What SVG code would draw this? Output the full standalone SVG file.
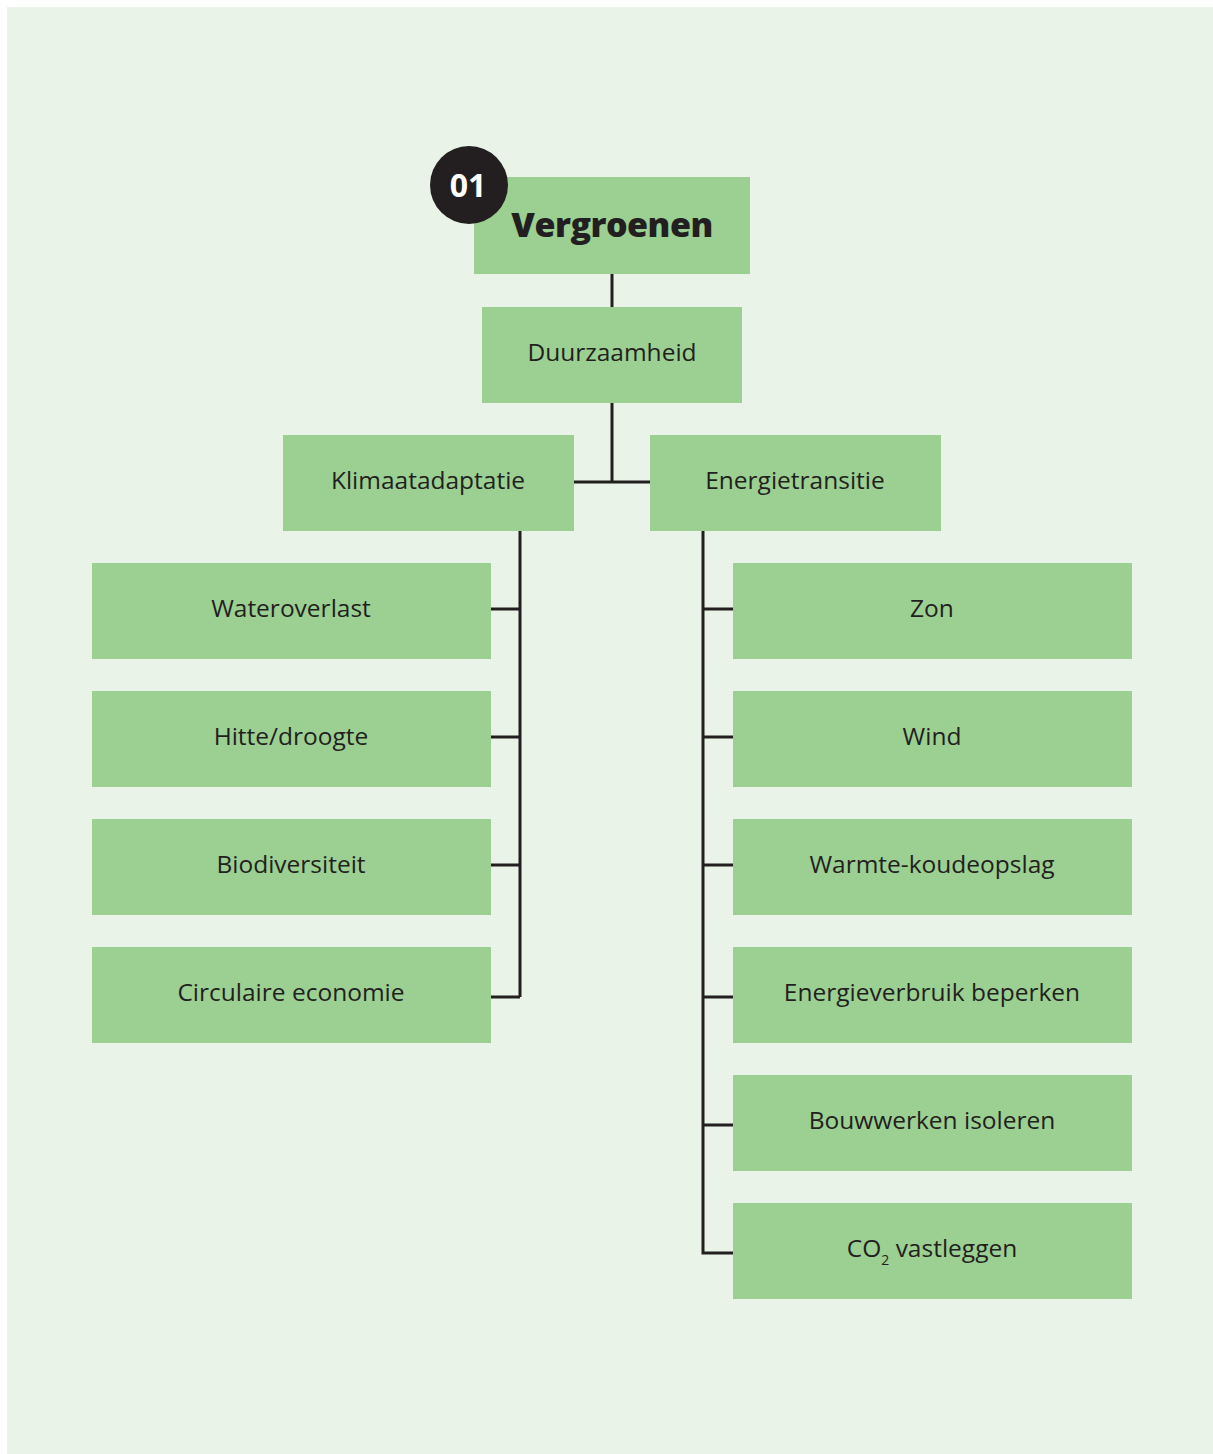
<svg xmlns="http://www.w3.org/2000/svg" width="1213" height="1454" viewBox="0 0 1213 1454">
<style>
.n{fill:#9bd092}
.t{font-family:"Open Sans","Noto Sans",sans-serif;font-size:24.5px;fill:#231f20;text-anchor:middle}
.c{stroke:#231f20;stroke-width:3;fill:none}
</style>
<rect width="1213" height="1454" fill="#ffffff"/>
<rect x="7" y="7" width="1206" height="1447" fill="#e9f3e7"/>
<g id="connectors">
<path class="c" d="M612 274V307M612 403V482M574 482H650"/>
<path class="c" d="M520 531V997M491 609H520M491 737H520M491 865H520M491 997H520"/>
<path class="c" d="M703 531V1253H733M703 609H733M703 737H733M703 865H733M703 997H733M703 1125H733"/>
</g>
<g id="vergroenen"><rect class="n" x="474" y="177" width="276" height="97"/><text class="t" x="612" y="237" style="font-size:34px;font-weight:800;letter-spacing:-0.5px">Vergroenen</text></g>
<g id="badge"><circle cx="469" cy="185" r="39" fill="#231f20"/><text class="t" x="468" y="197" style="font-size:32px;font-weight:bold;fill:#fff">01</text></g>
<g id="duurzaamheid"><rect class="n" x="482" y="307" width="260" height="96"/><text class="t" x="612" y="361">Duurzaamheid</text></g>
<g id="klimaatadaptatie"><rect class="n" x="283" y="435" width="291" height="96"/><text class="t" x="428" y="489">Klimaatadaptatie</text></g>
<g id="energietransitie"><rect class="n" x="650" y="435" width="291" height="96"/><text class="t" x="795" y="489">Energietransitie</text></g>
<g id="wateroverlast"><rect class="n" x="92" y="563" width="399" height="96"/><text class="t" x="291" y="617">Wateroverlast</text></g>
<g id="hitte"><rect class="n" x="92" y="691" width="399" height="96"/><text class="t" x="291" y="745">Hitte/droogte</text></g>
<g id="biodiversiteit"><rect class="n" x="92" y="819" width="399" height="96"/><text class="t" x="291" y="873">Biodiversiteit</text></g>
<g id="circulaire"><rect class="n" x="92" y="947" width="399" height="96"/><text class="t" x="291" y="1001">Circulaire economie</text></g>
<g id="zon"><rect class="n" x="733" y="563" width="399" height="96"/><text class="t" x="932" y="617">Zon</text></g>
<g id="wind"><rect class="n" x="733" y="691" width="399" height="96"/><text class="t" x="932" y="745">Wind</text></g>
<g id="wko"><rect class="n" x="733" y="819" width="399" height="96"/><text class="t" x="932" y="873">Warmte-koudeopslag</text></g>
<g id="energieverbruik"><rect class="n" x="733" y="947" width="399" height="96"/><text class="t" x="932" y="1001">Energieverbruik beperken</text></g>
<g id="bouwwerken"><rect class="n" x="733" y="1075" width="399" height="96"/><text class="t" x="932" y="1129">Bouwwerken isoleren</text></g>
<g id="co2"><rect class="n" x="733" y="1203" width="399" height="96"/><text class="t" x="932" y="1257">CO<tspan dy="8" style="font-size:14px">2</tspan><tspan dy="-8"> vastleggen</tspan></text></g>
</svg>
